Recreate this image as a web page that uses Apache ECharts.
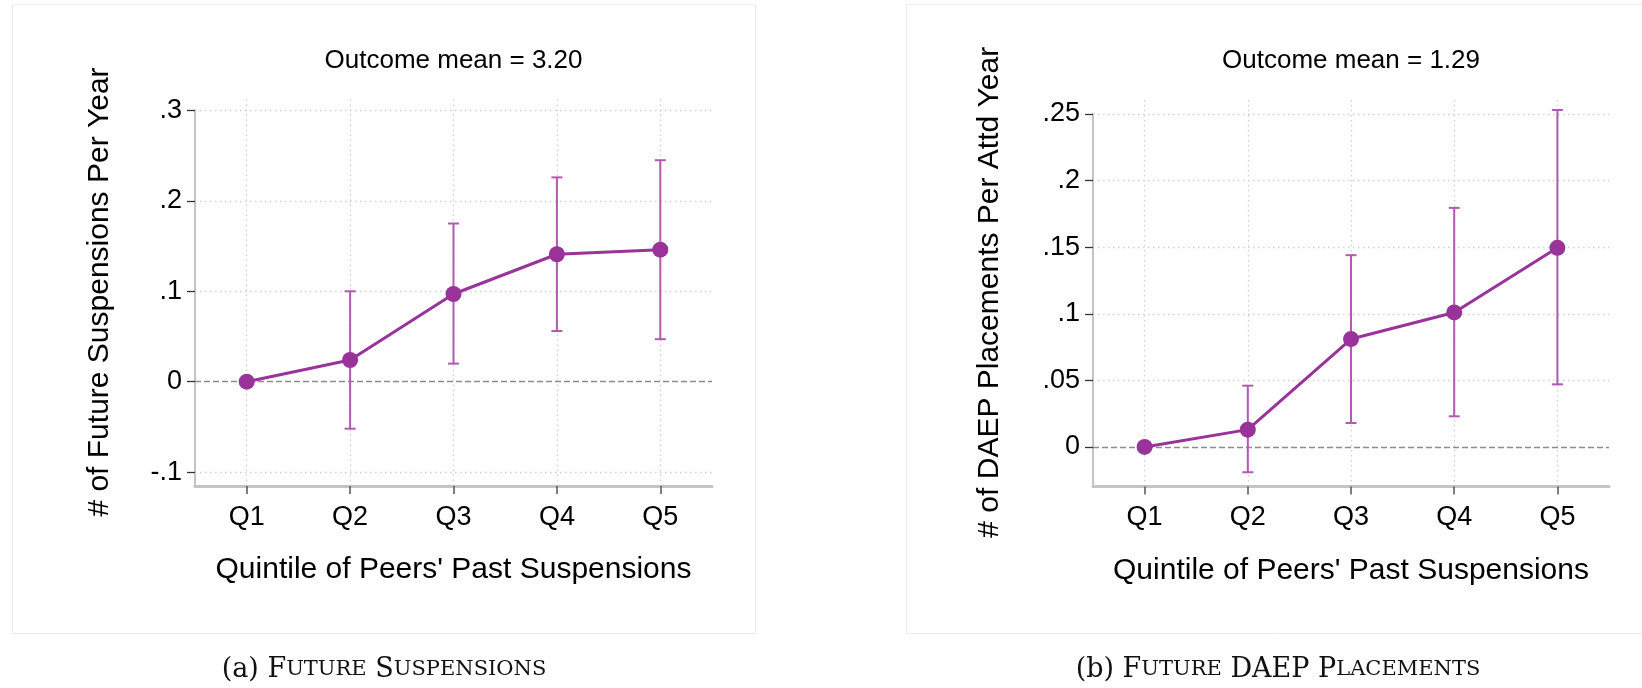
<!DOCTYPE html>
<html><head><meta charset="utf-8">
<script src="https://cdn.jsdelivr.net/npm/echarts@6/dist/echarts.min.js"></script>
<style>html,body{margin:0;padding:0;background:#fff}#c{width:1642px;height:688px}</style>
</head><body><div id="c"></div>
<script>
// ---- data ----
const categories = ['Q1', 'Q2', 'Q3', 'Q4', 'Q5'];
const suspEst  = [0, 0.024, 0.097, 0.141, 0.146];
const suspLow  = [null, -0.052, 0.020, 0.056, 0.047];
const suspHigh = [null, 0.100, 0.175, 0.226, 0.245];
const daepEst  = [0, 0.013, 0.081, 0.101, 0.1495];
const daepLow  = [null, -0.019, 0.018, 0.023, 0.047];
const daepHigh = [null, 0.046, 0.144, 0.1795, 0.253];
const suspTicks = [-0.1, 0, 0.1, 0.2, 0.3];
const daepTicks = [0, 0.05, 0.1, 0.15, 0.2, 0.25];
const suspMin = -0.1154, suspMax = 0.3;
const daepMin = -0.0297, daepMax = 0.25;
const suspTitle = 'Outcome mean = 3.20';
const daepTitle = 'Outcome mean = 1.29';
const suspYName = '# of Future Suspensions Per Year';
const daepYName = '# of DAEP Placements Per Attd Year';
const xName = "Quintile of Peers' Past Suspensions";

// ---- styles ----
const SANS = 'Liberation Sans, Arial, sans-serif';
const PURPLE = '#993399';
const CI = '#b05ab0';
const GRID = '#cfcfcf';

function fmt(v) {
  if (Math.abs(v) < 1e-9) return '0';
  const s = String(+v.toFixed(4));
  return s.replace(/^(-?)0\./, '$1.');
}

function valueAxis(gridIndex, min, max, ticks) {
  return {
    type: 'value', gridIndex, min, max,
    axisLine: { show: true, onZero: false, lineStyle: { color: '#c4c4c4', width: 2 } },
    axisTick: { show: true, customValues: ticks, length: 8, lineStyle: { color: '#333', width: 1.3 } },
    axisLabel: { customValues: ticks, formatter: fmt, fontSize: 27, color: '#000', fontFamily: SANS, margin: 13 },
    splitLine: { show: false }
  };
}
function nameAxis(gridIndex, name, gap) {
  return {
    type: 'value', gridIndex, min: 0, max: 1,
    axisLine: { show: false, onZero: false }, axisTick: { show: false }, axisLabel: { show: false }, splitLine: { show: false },
    name, nameLocation: 'middle', nameGap: gap, nameRotate: 90,
    nameTextStyle: { fontSize: 30, color: '#000', fontFamily: SANS }
  };
}
function catAxis(gridIndex) {
  return {
    type: 'category', gridIndex, data: categories, boundaryGap: true,
    axisLine: { show: true, onZero: false, lineStyle: { color: '#c4c4c4', width: 3 } },
    axisTick: { show: true, alignWithLabel: true, length: 8, lineStyle: { color: '#555', width: 1.5 } },
    axisLabel: { fontSize: 27, color: '#000', fontFamily: SANS, margin: 18 },
    splitLine: { show: false },
    name: xName, nameLocation: 'middle', nameGap: 69,
    nameTextStyle: { fontSize: 30, color: '#000', fontFamily: SANS }
  };
}
function hiddenCat(gridIndex) {
  return { type: 'category', gridIndex, data: categories, boundaryGap: true, show: false, axisLine: { onZero: false } };
}

function hGridSeries(xi, yi, ticks) {
  return {
    type: 'line', xAxisIndex: xi, yAxisIndex: yi, data: [], z: 1, silent: true,
    markLine: {
      silent: true, symbol: 'none', label: { show: false }, z: 1,
      lineStyle: { color: GRID, width: 1.3, type: [1.5, 3.5] },
      data: ticks.map(t => t === 0
        ? { yAxis: t, lineStyle: { color: '#8c8c8c', width: 1.3, type: [6, 3] } }
        : { yAxis: t })
    }
  };
}
function vGridSeries(xi, yi) {
  return {
    type: 'line', xAxisIndex: xi, yAxisIndex: yi, data: [], z: 0, silent: true,
    markLine: {
      silent: true, symbol: 'none', label: { show: false }, z: 0,
      lineStyle: { color: GRID, width: 1.3, type: [1.5, 3.5] },
      data: categories.map(c => ({ xAxis: c }))
    }
  };
}
function ciSeries(xi, yi, lows, highs) {
  return {
    type: 'custom', xAxisIndex: xi, yAxisIndex: yi, z: 2, silent: true,
    data: categories.map((c, i) => [i, lows[i], highs[i]]).filter(d => d[1] != null),
    encode: { x: 0, y: [1, 2] },
    renderItem(params, api) {
      const lo = api.coord([api.value(0), api.value(1)]);
      const hi = api.coord([api.value(0), api.value(2)]);
      const hw = 5.5;
      const style = { stroke: CI, lineWidth: 2, lineDash: null };
      return { type: 'group', children: [
        { type: 'line', shape: { x1: lo[0], y1: lo[1], x2: hi[0], y2: hi[1] }, style },
        { type: 'line', shape: { x1: lo[0] - hw, y1: lo[1], x2: lo[0] + hw, y2: lo[1] }, style },
        { type: 'line', shape: { x1: hi[0] - hw, y1: hi[1], x2: hi[0] + hw, y2: hi[1] }, style }
      ]};
    }
  };
}
function estSeries(xi, yi, est) {
  return {
    type: 'line', xAxisIndex: xi, yAxisIndex: yi, z: 3, data: est,
    symbol: 'circle', symbolSize: 16, silent: true,
    itemStyle: { color: PURPLE }, lineStyle: { color: PURPLE, width: 3 }
  };
}

function caption(x, parts) {
  return {
    type: 'text', x, y: 670,
    style: {
      text: parts.map(p => '{' + p[0] + '|' + p[1] + '}').join(''),
      textAlign: 'center', textVerticalAlign: 'middle',
      rich: {
        b: { fontSize: 27, fontFamily: 'DejaVu Serif, serif', fill: '#111' },
        s: { fontSize: 21, fontFamily: 'DejaVu Serif, serif', fill: '#111' }
      }
    }
  };
}

const chart = echarts.init(document.getElementById('c'), null, { renderer: 'canvas' });
chart.setOption({
  backgroundColor: '#fff',
  animation: false,
  grid: [
    { left: 195, top: 110.5, width: 517, height: 375.5 },
    { left: 195, top: 98, width: 517, height: 388 },
    { left: 1093, top: 114, width: 516, height: 372.5 },
    { left: 1093, top: 98, width: 516, height: 388.5 }
  ],
  xAxis: [catAxis(0), hiddenCat(1), catAxis(2), hiddenCat(3)],
  yAxis: [
    valueAxis(0, suspMin, suspMax, suspTicks),
    nameAxis(1, suspYName, 80),
    valueAxis(2, daepMin, daepMax, daepTicks),
    nameAxis(3, daepYName, 88)
  ],
  series: [
    vGridSeries(1, 1), hGridSeries(0, 0, suspTicks), ciSeries(0, 0, suspLow, suspHigh), estSeries(0, 0, suspEst),
    vGridSeries(3, 3), hGridSeries(2, 2, daepTicks), ciSeries(2, 2, daepLow, daepHigh), estSeries(2, 2, daepEst)
  ],
  graphic: [
    { type: 'rect', shape: { x: 12.5, y: 4.5, width: 743, height: 629 }, style: { fill: 'none', stroke: '#ececec', lineWidth: 1 }, z: -10 },
    { type: 'rect', shape: { x: 906.5, y: 4.5, width: 800, height: 629 }, style: { fill: 'none', stroke: '#ececec', lineWidth: 1 }, z: -10 },
    { type: 'text', x: 453.5, y: 61, style: { text: suspTitle, textAlign: 'center', textVerticalAlign: 'middle', fontSize: 26, fontFamily: SANS, fill: '#000' } },
    { type: 'text', x: 1351, y: 61, style: { text: daepTitle, textAlign: 'center', textVerticalAlign: 'middle', fontSize: 26, fontFamily: SANS, fill: '#000' } },
    caption(384, [['b', '(a) F'], ['s', 'UTURE'], ['b', ' S'], ['s', 'USPENSIONS']]),
    caption(1278, [['b', '(b) F'], ['s', 'UTURE'], ['b', ' DAEP P'], ['s', 'LACEMENTS']])
  ]
});
</script></body></html>
